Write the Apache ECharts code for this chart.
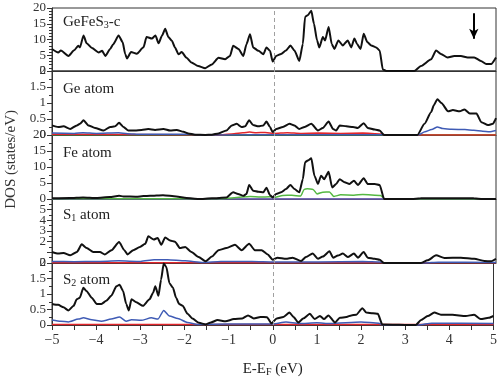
<!DOCTYPE html>
<html>
<head>
<meta charset="utf-8">
<script src="https://cdn.jsdelivr.net/npm/echarts@6/dist/echarts.min.js"></script>
<style>
  html, body { margin: 0; padding: 0; background: #fff; }
  #chart { width: 500px; height: 378px; }
</style>
</head>
<body>
<div id="chart"></div>
<script>
// energy ticks (eV)
const energyTicks = [-5, -4, -3, -2, -1, 0, 1, 2, 3, 4, 5];

// panel 1: GeFeS3-c total DOS
const totalDos = [[-5,7],[-4.86,5.9],[-4.8,6.5],[-4.63,4.8],[-4.5,6.6],[-4.41,8],[-4.37,7.5],[-4.29,11.3],[-4.22,8.8],[-4.1,7.3],[-3.95,5.9],[-3.87,6.4],[-3.8,4.8],[-3.69,7],[-3.62,8.5],[-3.5,11.3],[-3.41,9.2],[-3.35,5.3],[-3.31,4],[-3.22,6],[-3.09,5.5],[-2.94,7.5],[-2.87,10.8],[-2.75,10.3],[-2.67,11.3],[-2.6,8.8],[-2.52,11.3],[-2.45,13.4],[-2.38,10.8],[-2.3,9.6],[-2.23,7.5],[-2.15,5.3],[-2.08,6],[-1.97,4.2],[-1.86,2.7],[-1.71,1.6],[-1.55,0.9],[-1.4,2.1],[-1.25,4.2],[-1.1,3.7],[-0.99,4.8],[-0.92,8],[-0.8,7],[-0.69,4.8],[-0.62,8.5],[-0.54,11.7],[-0.47,7.5],[-0.35,6.4],[-0.24,5.3],[-0.17,7.5],[-0.09,6.4],[-0.03,3],[0.05,4.8],[0.16,5.4],[0.27,6.5],[0.37,8.1],[0.46,6.5],[0.57,3.2],[0.65,8.6],[0.7,17.2],[0.76,17.7],[0.84,19.1],[0.9,15],[0.97,9.7],[1.02,7.5],[1.1,10.8],[1.15,9.7],[1.23,14],[1.3,8.6],[1.36,7],[1.45,9.7],[1.55,8.1],[1.66,9.7],[1.74,7.5],[1.81,10.3],[1.87,8.6],[1.95,7],[2.02,11.8],[2.1,9.2],[2.19,8.1],[2.3,7.5],[2.38,6.5],[2.45,0.5],[2.53,0],[3.16,0],[3.31,1.6],[3.54,3.7],[3.65,6.5],[3.76,5.4],[3.91,4.3],[4.06,4.8],[4.21,4.8],[4.36,4.3],[4.51,4.3],[4.66,3.2],[4.78,2.2],[4.89,2.2],[5,4.3]];

// panel 2: Ge atom
const geTotal = [[-5,0.3],[-4.86,0.25],[-4.74,0.27],[-4.59,0.19],[-4.44,0.3],[-4.37,0.35],[-4.29,0.46],[-4.18,0.3],[-4.03,0.22],[-3.84,0.14],[-3.69,0.25],[-3.58,0.27],[-3.49,0.38],[-3.39,0.25],[-3.28,0.14],[-3.13,0.14],[-2.98,0.16],[-2.83,0.19],[-2.68,0.16],[-2.49,0.19],[-2.34,0.14],[-2.19,0.16],[-2.04,0.1],[-1.93,0.05],[-1.78,0.01],[-1.55,0],[-1.4,0.01],[-1.25,0.05],[-1.07,0.14],[-0.95,0.3],[-0.84,0.35],[-0.73,0.25],[-0.65,0.27],[-0.56,0.46],[-0.47,0.31],[-0.35,0.27],[-0.24,0.3],[-0.17,0.42],[-0.09,0.25],[-0.03,0.09],[0.05,0.19],[0.2,0.25],[0.35,0.35],[0.46,0.3],[0.57,0.19],[0.69,0.25],[0.84,0.35],[0.99,0.14],[1.1,0.22],[1.23,0.42],[1.33,0.19],[1.4,0.14],[1.48,0.3],[1.63,0.27],[1.78,0.25],[1.89,0.22],[2.02,0.37],[2.11,0.22],[2.27,0.17],[2.38,0.14],[2.48,0],[3.23,0],[3.39,0.35],[3.54,0.72],[3.6,0.93],[3.68,1.12],[3.77,1.0],[3.92,0.74],[4.03,0.78],[4.18,0.74],[4.29,0.8],[4.41,0.67],[4.56,0.67],[4.67,0.4],[4.82,0.31],[4.93,0.35],[5,0.53]];
const geBlue = [[-5,0.06],[-4.5,0.05],[-4.3,0.07],[-4,0.05],[-3.5,0.07],[-3.3,0.04],[-3,0.02],[-2,0.02],[-1.5,0],[-1,0],[0,0.01],[2.4,0.01],[2.5,0],[3.25,0],[3.4,0.1],[3.55,0.17],[3.68,0.25],[3.8,0.2],[4,0.18],[4.3,0.17],[4.5,0.15],[4.7,0.12],[4.85,0.1],[5,0.14]];
const geRed = [[-5,0.02],[-2,0.01],[-1.2,0],[-0.9,0.04],[-0.7,0.07],[-0.55,0.09],[-0.4,0.07],[-0.2,0.08],[0,0.05],[0.3,0.07],[0.6,0.05],[1,0.06],[1.5,0.05],[2,0.06],[2.4,0.03],[2.5,0],[5,0]];
const geGreen = [[-5,0.01],[5,0.01]];

// panel 3: Fe atom
const feTotal = [[-5,0.2],[-4.6,0.3],[-4.3,0.5],[-4,0.3],[-3.7,0.6],[-3.49,1],[-3.39,0.8],[-3.1,0.7],[-2.94,0.9],[-2.79,1],[-2.5,1.2],[-2.2,0.8],[-1.97,0.3],[-1.7,0],[-1.4,0.2],[-1.07,0.5],[-0.92,2.1],[-0.81,1.6],[-0.69,1],[-0.62,1.6],[-0.56,4.4],[-0.47,2.6],[-0.35,2.3],[-0.24,2.1],[-0.17,3.5],[-0.09,1.2],[-0.03,0.5],[0.05,1.6],[0.16,2.1],[0.27,3.1],[0.37,4.4],[0.46,3.1],[0.57,2.1],[0.65,6.2],[0.7,11.5],[0.76,12],[0.84,12.7],[0.91,7.3],[0.99,4.7],[1.06,7.3],[1.13,6.2],[1.23,8.5],[1.31,3.6],[1.4,4.7],[1.48,6.2],[1.59,5.2],[1.7,4.7],[1.8,5.7],[1.89,4.4],[2.02,6.5],[2.11,4.7],[2.27,4.7],[2.38,4.4],[2.48,0],[3.1,0],[3.3,0.2],[3.6,0.25],[4.2,0.25],[4.5,0.2],[4.7,0],[5,0]];
const feGreen = [[-5,0.05],[-3,0.1],[-1.2,0.05],[-0.9,0.4],[-0.54,0.8],[-0.3,0.6],[-0.1,0.7],[0,0.5],[0.2,1.1],[0.4,1.2],[0.6,0.9],[0.68,3.0],[0.75,3.2],[0.88,3.0],[0.97,1.6],[1.1,2.1],[1.25,2.2],[1.35,0.8],[1.5,1.3],[1.8,1.2],[2.0,1.4],[2.4,1.1],[2.5,0],[5,0]];
const fePurple = [[-5,0],[5,0]];

// panel 4: S1 atom
const s1Total = [[-5,1.03],[-4.86,0.88],[-4.74,0.93],[-4.59,0.72],[-4.44,1.03],[-4.33,1.75],[-4.22,1.4],[-4.07,1.03],[-3.92,1.03],[-3.81,0.8],[-3.66,1.2],[-3.49,1.97],[-3.37,1.2],[-3.3,0.8],[-3.17,1.2],[-3.02,1.5],[-2.9,1.8],[-2.83,2.5],[-2.71,2.2],[-2.62,2.35],[-2.54,1.7],[-2.45,2.4],[-2.34,2.1],[-2.23,2.0],[-2.12,1.4],[-2.0,1.5],[-1.86,1.03],[-1.7,0.56],[-1.54,0.16],[-1.4,0.6],[-1.25,1.2],[-1.07,1.4],[-0.88,1.7],[-0.73,1.2],[-0.56,1.8],[-0.43,1.2],[-0.28,1.2],[-0.14,0.8],[-0.03,0.3],[0.08,0.5],[0.27,0.4],[0.42,0.5],[0.61,0.19],[0.72,0.56],[0.87,0.9],[0.99,0.4],[1.1,0.6],[1.25,1.1],[1.33,0.5],[1.44,0.7],[1.55,0.88],[1.66,0.56],[1.8,0.88],[1.89,0.5],[2.02,1.03],[2.11,0.5],[2.27,0.4],[2.38,0.3],[2.48,0],[3.31,0],[3.46,0.25],[3.65,0.72],[3.84,0.47],[4.21,0.5],[4.51,0.4],[4.74,0.19],[4.89,0.16],[5,0.4]];
const s1Blue = [[-5,0.15],[-4.5,0.12],[-4,0.15],[-3.5,0.2],[-3,0.15],[-2.7,0.3],[-2.4,0.3],[-2,0.2],[-1.6,0.05],[-1.2,0.15],[-0.5,0.15],[0,0.1],[1,0.1],[2,0.15],[2.4,0.1],[2.5,0],[3.4,0],[3.7,0.08],[5,0.05]];
const s1Red = [[-5,0.02],[5,0.02]];

// panel 5: S2 atom
const s2Total = [[-5,0.68],[-4.86,0.65],[-4.74,0.57],[-4.63,0.47],[-4.51,0.62],[-4.44,0.83],[-4.37,0.88],[-4.29,1.2],[-4.22,1.1],[-4.1,0.88],[-3.99,0.68],[-3.88,0.68],[-3.77,0.78],[-3.66,0.94],[-3.54,1.25],[-3.47,1.3],[-3.39,1.1],[-3.32,0.68],[-3.26,0.47],[-3.2,0.83],[-3.09,0.73],[-2.94,0.62],[-2.79,0.83],[-2.71,1.04],[-2.66,1.25],[-2.59,0.94],[-2.53,1.46],[-2.47,1.98],[-2.41,1.87],[-2.34,1.35],[-2.26,1.2],[-2.19,0.88],[-2.12,0.68],[-2.04,0.62],[-1.93,0.36],[-1.82,0.21],[-1.67,0.07],[-1.52,0.02],[-1.4,0.08],[-1.25,0.16],[-1.07,0.12],[-0.88,0.19],[-0.69,0.21],[-0.56,0.31],[-0.43,0.21],[-0.28,0.26],[-0.13,0.25],[-0.03,0.05],[0.09,0.21],[0.24,0.26],[0.38,0.4],[0.47,0.26],[0.58,0.08],[0.69,0.21],[0.84,0.36],[0.95,0.19],[1.07,0.29],[1.16,0.19],[1.26,0.31],[1.41,0.08],[1.52,0.23],[1.67,0.26],[1.78,0.31],[1.89,0.33],[2.03,0.54],[2.12,0.4],[2.27,0.38],[2.38,0.36],[2.48,0.02],[3.24,0],[3.36,0.16],[3.51,0.29],[3.66,0.4],[3.81,0.33],[4.07,0.33],[4.37,0.29],[4.56,0.33],[4.71,0.19],[4.89,0.23],[5,0.29]];
const s2Blue = [[-5,0.16],[-4.8,0.12],[-4.63,0.1],[-4.4,0.19],[-4.29,0.23],[-4.1,0.17],[-3.88,0.12],[-3.66,0.19],[-3.47,0.26],[-3.32,0.12],[-3.2,0.17],[-2.98,0.15],[-2.75,0.23],[-2.6,0.19],[-2.47,0.47],[-2.34,0.29],[-2.15,0.21],[-1.93,0.08],[-1.7,0.02],[-1,0.03],[0,0.03],[0.3,0.1],[0.6,0.05],[1,0.07],[1.3,0.05],[2,0.1],[2.4,0.06],[2.5,0],[3.3,0],[3.6,0.06],[5,0.05]];
const s2Red = [[-5,0.02],[5,0.02]];

// panel setup
const panelTops = [8, 71, 135, 199, 263, 327];
const panelMax = [20, 2, 20, 6, 2];
const panelInterval = [5, 0.5, 5, 1, 0.5];
const panelMinor = [5, 2, 2, 2, 2];
const panelNames = [
  '{n|GeFeS}{s|3}{n|-c}',
  '{n|Ge atom}',
  '{n|Fe atom}',
  '{n|S}{s|1}{n| atom}',
  '{n|S}{s|2}{n| atom}'
];

const BLACK = '#111';
const BLUE = '#3f5bb5';
const RED = '#e2262c';
const GREEN = '#55b842';
const PURPLE = '#7c6bd0';
const FONT = '"Liberation Serif", "DejaVu Serif", serif';

const richText = {
  n: { fontFamily: FONT, fontSize: 15, fontWeight: 'normal', color: '#222', lineHeight: 20, verticalAlign: 'bottom' },
  s: { fontFamily: FONT, fontSize: 10, fontWeight: 'normal', color: '#222', lineHeight: 9, verticalAlign: 'bottom' }
};

const fmt = (v) => (v < 0 ? '\u2212' + (-v) : String(v));

const zeroLine = {
  silent: true,
  symbol: 'none',
  label: { show: false },
  lineStyle: { color: '#a0a0a0', type: [4, 3], width: 1 },
  data: [{ xAxis: 0 }]
};

const grid = [];
const xAxis = [];
const yAxis = [];
const title = [];
for (let i = 0; i < 5; i++) {
  grid.push({
    left: 52,
    right: 4,
    top: panelTops[i],
    height: panelTops[i + 1] - panelTops[i],
    show: true,
    borderColor: '#333',
    borderWidth: 1
  });
  const last = i === 4;
  xAxis.push({
    type: 'value',
    gridIndex: i,
    min: energyTicks[0],
    max: energyTicks[energyTicks.length - 1],
    interval: 1,
    splitLine: { show: false },
    axisLine: { show: true, onZero: false, lineStyle: { color: '#333', width: 1 } },
    axisTick: { show: last, length: 5, lineStyle: { color: '#333' } },
    minorTick: { show: last, splitNumber: 2, length: 5, lineStyle: { color: '#333' } },
    axisLabel: {
      show: last,
      formatter: fmt,
      fontFamily: FONT,
      fontSize: 14,
      color: '#333',
      margin: 8
    },
    name: last ? '{n|E-E}{s|F}{n| (eV)}' : '',
    nameLocation: 'middle',
    nameGap: 32,
    nameTextStyle: { rich: richText }
  });
  yAxis.push({
    type: 'value',
    gridIndex: i,
    min: 0,
    max: panelMax[i],
    interval: panelInterval[i],
    splitLine: { show: false },
    axisLine: { show: true, onZero: false, lineStyle: { color: '#333', width: 1 } },
    axisTick: { show: true, length: 5, lineStyle: { color: '#333' } },
    minorTick: { show: true, splitNumber: panelMinor[i], length: 3, lineStyle: { color: '#333' } },
    axisLabel: {
      showMinLabel: true,
      // S1 top label sits under the Fe zero label; dropping it keeps the "5"
      showMaxLabel: i !== 3,
      hideOverlap: false,
      fontFamily: FONT,
      fontSize: 13,
      color: '#333',
      margin: 6
    }
  });
  title.push({
    text: panelNames[i],
    left: 63,
    top: [10, 77, 141, 203, 268][i],
    padding: 0,
    textStyle: { fontWeight: 'normal', rich: richText }
  });
}

function line(data, idx, color, width, extra) {
  return Object.assign({
    type: 'line',
    xAxisIndex: idx,
    yAxisIndex: idx,
    data: data,
    showSymbol: false,
    smooth: 0.2,
    smoothMonotone: 'x',
    animation: false,
    lineStyle: { color: color, width: width },
    itemStyle: { color: color }
  }, extra || {});
}

const series = [
  line(totalDos, 0, BLACK, 2, {
    markLine: {
      silent: true,
      label: { show: false },
      symbol: 'none',
      data: [
        { xAxis: 0, lineStyle: { color: '#a0a0a0', type: [4, 3], width: 1 } },
        [
          { coord: [4.5, 18.3], symbol: 'none', lineStyle: { color: '#000', type: 'solid', width: 2 } },
          { coord: [4.5, 10.2], symbol: 'arrow', symbolSize: [7, 10] }
        ]
      ]
    }
  }),
  line(geGreen, 1, GREEN, 1.5),
  line(geRed, 1, RED, 1.5),
  line(geBlue, 1, BLUE, 1.5),
  line(geTotal, 1, BLACK, 2, { markLine: zeroLine }),
  line(fePurple, 2, PURPLE, 1.5),
  line(feGreen, 2, GREEN, 1.5),
  line(feTotal, 2, BLACK, 2, { markLine: zeroLine }),
  line(s1Red, 3, RED, 1.5),
  line(s1Blue, 3, BLUE, 1.5),
  line(s1Total, 3, BLACK, 2, { markLine: zeroLine }),
  line(s2Red, 4, RED, 1.5),
  line(s2Blue, 4, BLUE, 1.5),
  line(s2Total, 4, BLACK, 2, { markLine: zeroLine })
];

const chart = echarts.init(document.getElementById('chart'), null, { renderer: 'canvas' });
chart.setOption({
  backgroundColor: '#fff',
  animation: false,
  title: title,
  grid: grid,
  xAxis: xAxis,
  yAxis: yAxis,
  series: series,
  graphic: [{
    type: 'text',
    left: 4,
    top: 110,
    rotation: Math.PI / 2,
    style: {
      text: 'DOS (states/eV)',
      font: '15px ' + FONT,
      fill: '#333'
    }
  }]
});
</script>
</body>
</html>
